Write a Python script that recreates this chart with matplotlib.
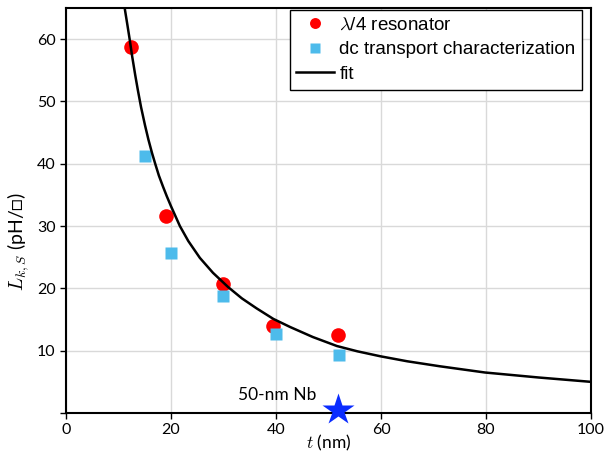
import matplotlib
matplotlib.use("Agg")
import matplotlib.pyplot as plt

# datos
t_res = [12.4, 19.0, 30.0, 39.5, 51.9]
L_res = [58.7, 31.6, 20.7, 13.9, 12.45]

t_dc = [15.1, 20.0, 30.0, 40.0, 52.0]
L_dc = [41.2, 25.75, 18.75, 12.66, 9.3]

# curva de ajuste (puntos leidos sobre la linea)
t_fit = [10.9, 11.24, 11.7, 12.13, 12.6, 13.2, 13.7, 14.3, 15.05, 15.7, 16.4, 17.0, 17.7, 18.5, 19.2,
         20.0, 21.7, 23.3, 25.5, 28.0, 30.9, 33.5, 36.3, 39.5, 42.7, 47.0, 51.6, 55.5, 59.9, 65.0,
         71.2, 79.8, 90.0, 100.0]
L_fit = [67.0, 64.7, 62.3, 60.0, 57.3, 54.2, 51.8, 49.1, 46.2, 43.9, 41.7, 40.0, 38.1, 36.3, 34.8,
         33.2, 30.0, 27.6, 24.9, 22.5, 20.2, 18.4, 16.8, 15.1, 13.8, 12.2, 10.75, 9.9, 9.1, 8.3,
         7.5, 6.5, 5.7, 5.0]

t_nb = [51.9]
L_nb = [0.5]

xticks = [0, 20, 40, 60, 80, 100]
yticks = [0, 10, 20, 30, 40, 50, 60]
ylabels = ["", "10", "20", "30", "40", "50", "60"]

plt.rcParams["mathtext.fontset"] = "cm"
tick_font = ["Lato", "DejaVu Sans"]

fig = plt.figure(figsize=(6.05, 4.54), dpi=100)
ax = fig.add_axes([0.109, 0.0903, 0.868, 0.892])

ax.grid(color="#d9d9d9", lw=1.0, zorder=0)
ax.set_axisbelow(True)

ax.plot(t_res, L_res, "o", color="#ff0000", ms=10.5, mec="none", label=r"$\lambda$/4 resonator", zorder=3)
ax.plot(t_dc, L_dc, "s", color="#4dbbeb", ms=9.2, mec="none", label="dc transport characterization", zorder=3)
ax.plot(t_fit, L_fit, "-", color="black", lw=1.8, label="fit", zorder=4, solid_joinstyle="round")
ax.plot(t_nb, L_nb, "*", color="#0a2cff", ms=24, mec="none", clip_on=False, zorder=5)
ax.text(40.2, 2.9, "50-nm Nb", fontsize=12.5, family=tick_font, ha="center", va="center")

ax.set_xlim(0, 100)
ax.set_ylim(0, 65)
ax.set_xticks(xticks)
ax.set_yticks(yticks)
ax.set_yticklabels(ylabels)
for lab in ax.get_xticklabels() + ax.get_yticklabels():
    lab.set_family(tick_font)
    lab.set_fontsize(11.5)
ax.tick_params(direction="out", length=4, width=1, color="black")

for s in ax.spines.values():
    s.set_linewidth(1.5)
    s.set_color("black")

ax.set_xlabel(r"$t$ (nm)", fontsize=12.5, family=tick_font, va="center")
ax.xaxis.set_label_coords(0.5, -0.074)
ax.set_ylabel(r"$L_{k,S}$ (pH/□)", fontsize=14, family=tick_font, va="center")
ax.yaxis.set_label_coords(-0.092, 0.423)

leg = ax.legend(loc="upper right", bbox_to_anchor=(0.983, 0.995), borderaxespad=0,
                prop={"family": "Liberation Sans", "size": 13.5}, fancybox=False,
                framealpha=1, edgecolor="black", markerscale=0.75, handlelength=2.0,
                handletextpad=0.3, labelspacing=0.4, borderpad=0.35)
leg.get_frame().set_linewidth(1.0)

fig.savefig("out.png", dpi=100)
